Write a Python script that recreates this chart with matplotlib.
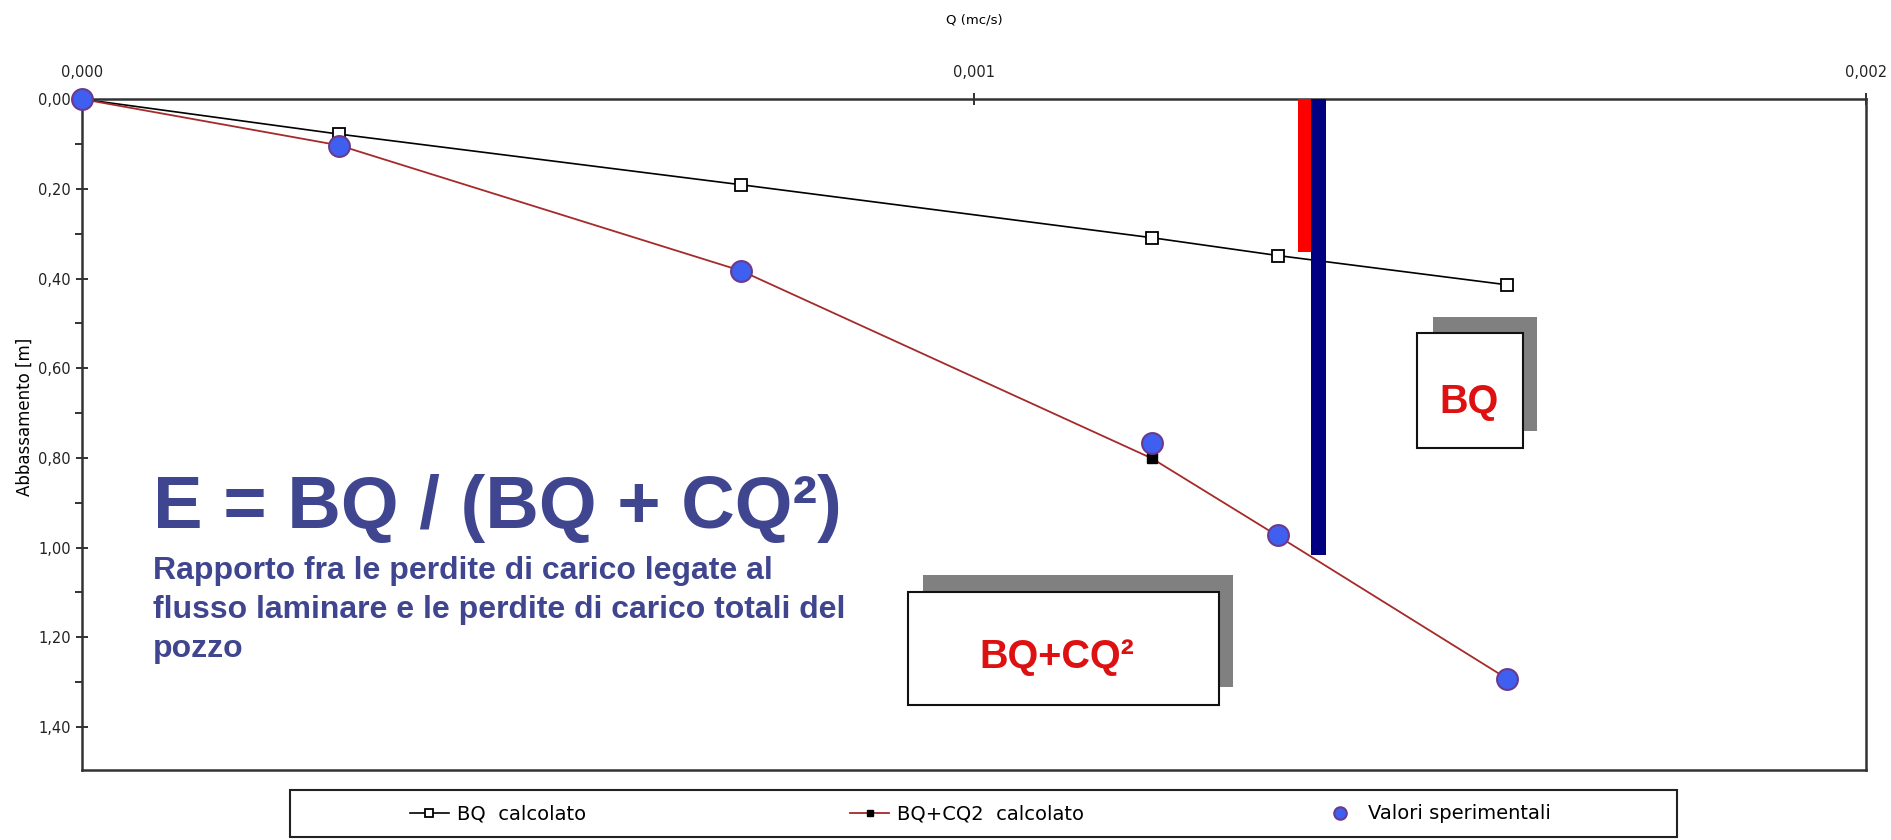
import numpy as np
import matplotlib.pyplot as plt
from matplotlib.patches import Rectangle
from matplotlib.ticker import MultipleLocator, FuncFormatter

# portata Q (mc/s) e abbassamenti (m)
q = [0.0, 0.000288, 0.000739, 0.001199, 0.001341, 0.001597]
bq_calc = [0.0, 0.078, 0.191, 0.309, 0.349, 0.414]
bqcq2_calc = [0.0, 0.103, 0.383, 0.801, 0.975, 1.292]
valori_sper = [0.0, 0.105, 0.384, 0.766, 0.973, 1.293]

# barre: perdita laminare (rossa) e perdita totale (blu)
q_barre = [0.0013625, 0.001378]
h_barre = [0.341, 1.017]
colori_barre = ['#ff0000', '#000080']

x_ticks = [0.0, 0.001, 0.002]
y_ticks = [0.0, 0.2, 0.4, 0.6, 0.8, 1.0, 1.2, 1.4]

blu_testo = '#3f458f'

plt.rcParams['font.family'] = ['DejaVu Sans']

fig = plt.figure(figsize=(18.91, 8.40), dpi=100)
ax = fig.add_axes([0.0434, 0.0833, 0.9436, 0.7987])

ax.bar(q_barre, h_barre, width=0.0000165, align='edge', color=colori_barre, zorder=3)

ax.plot(q, bq_calc, color='black', lw=1.2, marker='s', ms=8.5, mfc='white', mec='black',
        mew=1.3, zorder=2, label='BQ  calcolato')
ax.plot(q, bqcq2_calc, color='#a52a2a', lw=1.3, marker='s', ms=7.5, mfc='black', mec='black',
        zorder=2, label='BQ+CQ2  calcolato')
ax.plot(q, valori_sper, ls='none', marker='o', ms=15, mfc='#3f5ff0', mec='#6b3a8c', mew=1.5,
        zorder=4, clip_on=False, label='Valori sperimentali')

ax.set_xlim(0, 0.002)
ax.set_ylim(1.496, 0)
ax.set_xticks(x_ticks)
ax.set_yticks(y_ticks)
ax.yaxis.set_minor_locator(MultipleLocator(0.1))
ax.xaxis.set_major_formatter(FuncFormatter(lambda v, p: f'{v:.3f}'.replace('.', ',')))
ax.yaxis.set_major_formatter(FuncFormatter(lambda v, p: f'{v:.2f}'.replace('.', ',')))
ax.xaxis.tick_top()
ax.xaxis.set_label_position('top')
ax.tick_params(axis='both', which='major', direction='inout', length=8, width=1.3,
               labelsize=10.5, colors='#222222')
ax.tick_params(axis='y', which='minor', direction='out', length=5, width=1.3, colors='#222222')
ax.tick_params(axis='x', which='major', pad=10)
ax.tick_params(axis='y', which='major', pad=4)
for s in ax.spines.values():
    s.set_linewidth(1.8)
    s.set_color('#333333')

ax.set_xlabel('Q (mc/s)', fontsize=9.5, labelpad=30)
ax.set_ylabel('Abbassamento [m]', fontsize=12)
ax.yaxis.set_label_coords(-0.027, 0.526)

# formula e descrizione
fig.text(0.081, 0.371, 'E = BQ / (BQ + CQ²)', fontsize=53.5, fontweight='bold',
         family=['Liberation Sans', 'DejaVu Sans'], color=blu_testo, va='baseline')
fig.text(0.081, 0.218, 'Rapporto fra le perdite di carico legate al\n'
         'flusso laminare e le perdite di carico totali del\npozzo',
         fontsize=23, fontweight='bold', family=['Liberation Sans', 'DejaVu Sans'],
         color=blu_testo, linespacing=1.38, va='baseline')

# riquadri con ombra
riquadri = [
    ('BQ', (0.7493, 0.4667, 0.0561, 0.1369), (0.7578, 0.4869, 0.0550, 0.1357), (0.7768, 0.522)),
    ('BQ+CQ²', (0.4802, 0.1607, 0.1645, 0.1345), (0.4881, 0.1821, 0.1639, 0.1333), (0.559, 0.218)),
]
for testo, box, ombra, centro in riquadri:
    fig.patches.append(Rectangle(ombra[:2], ombra[2], ombra[3], transform=fig.transFigure,
                                 facecolor='#808080', edgecolor='none', zorder=5))
    fig.patches.append(Rectangle(box[:2], box[2], box[3], transform=fig.transFigure,
                                 facecolor='white', edgecolor='#111111', lw=1.5, zorder=6))
    fig.text(centro[0], centro[1], testo, fontsize=28.5, fontweight='bold', color='#dd1111',
             family=['Liberation Sans', 'DejaVu Sans'], ha='center', va='center', zorder=7)

# legenda in basso
fig.patches.append(Rectangle((0.1534, 0.003), 0.7335, 0.057, transform=fig.transFigure,
                             facecolor='white', edgecolor='#222222', lw=1.5))
handles, labels = ax.get_legend_handles_labels()
for h, l, xpos in zip(handles, labels, [0.2168, 0.4497, 0.6985]):
    fig.legend([h], [l], loc='center left', bbox_to_anchor=(xpos, 0.031), frameon=False,
               borderpad=0, borderaxespad=0, handlelength=2.0, handletextpad=0.4,
               markerscale=0.6, prop={'size': 14})

fig.savefig('out.png', dpi=100)
